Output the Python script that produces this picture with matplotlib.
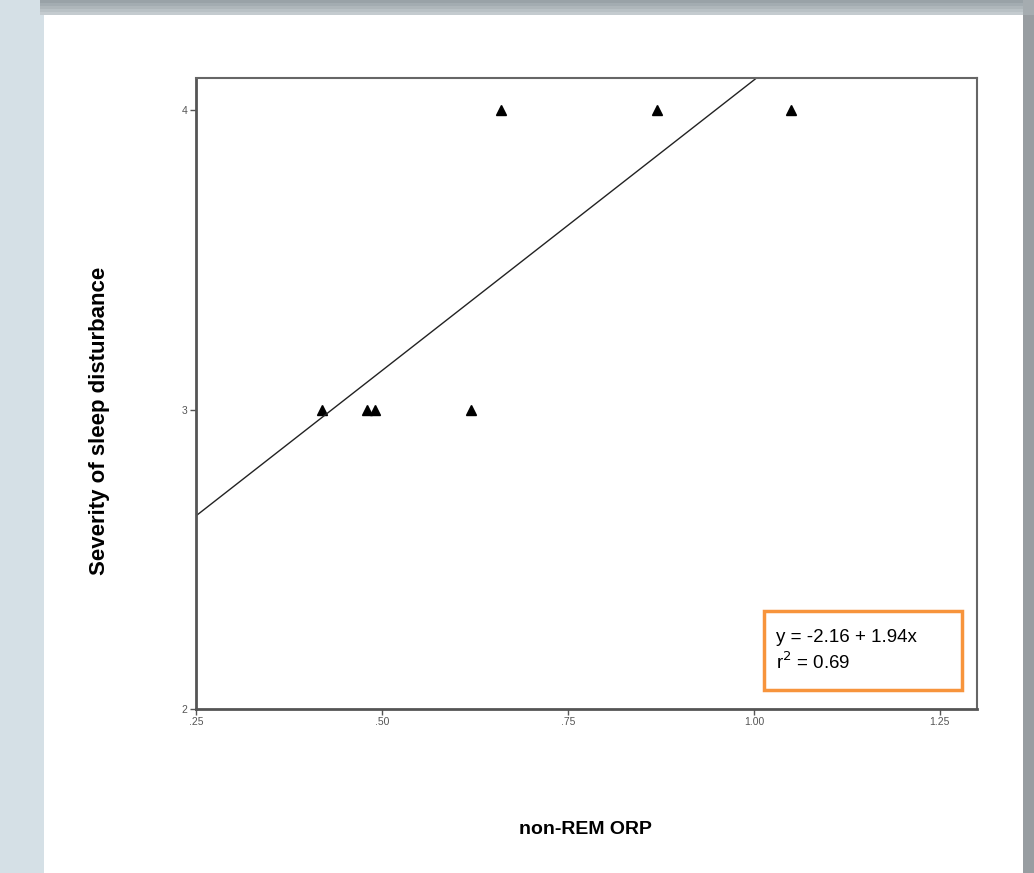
import matplotlib
matplotlib.use("Agg")
import matplotlib.pyplot as plt
import numpy as np
from matplotlib.patches import Rectangle

plt.rcParams['font.family'] = ['Liberation Sans', 'DejaVu Sans']

# data
orp = [0.42, 0.48, 0.49, 0.62, 0.66, 0.87, 1.05]
severity = [3, 3, 3, 3, 4, 4, 4]
fit_intercept = 2.16
fit_slope = 1.94
x_ticks = [0.25, 0.50, 0.75, 1.00, 1.25]
x_tick_labels = ['.25', '.50', '.75', '1.00', '1.25']
y_ticks = [2, 3, 4]
y_tick_labels = ['2', '3', '4']
fit_text = "y = -2.16 + 1.94x\nr$^2$ = 0.69"

W, H = 1034, 873
fig = plt.figure(figsize=(W / 100, H / 100), dpi=100)
fig.patch.set_facecolor('#d5e0e6')

# page background: white panel with grey shadow bars
def px_rect(x0, y0, x1, y1, color):
    fig.patches.append(Rectangle((x0 / W, 1 - y1 / H), (x1 - x0) / W, (y1 - y0) / H,
                                 transform=fig.transFigure, facecolor=color,
                                 edgecolor='none', zorder=0))

px_rect(44, 15, 1023, H, 'white')
px_rect(1023, 15, W, H, '#989da1')
for i, c in enumerate(['#99a2a7', '#a3acb1', '#aeb6ba', '#b9c1c5', '#c4cbcf']):
    px_rect(40, i * 3, W, i * 3 + 3, c)
px_rect(1023, 0, W, 15, '#a5acb0')

ax = fig.add_axes([196 / W, 1 - 709 / H, (977 - 196) / W, (709 - 78) / H])
ax.set_zorder(5)
ax.set_facecolor('white')
ax.set_xlim(0.25, 1.30)
ax.set_ylim(2, 4.107)

ax.plot(orp, severity, ls='none', marker='^', color='black', markersize=7.5)
xs = np.array([0.25, 1.30])
ax.plot(xs, fit_intercept + fit_slope * xs, color='#222222', linewidth=1.0)

ax.set_xticks(x_ticks)
ax.set_xticklabels(x_tick_labels)
ax.set_yticks(y_ticks)
ax.set_yticklabels(y_tick_labels)
ax.tick_params(labelsize=7.5, colors='#555555', length=4, width=1, pad=2)
for side in ['left', 'bottom']:
    ax.spines[side].set_color('#555555')
    ax.spines[side].set_linewidth(2.0)
for side in ['top', 'right']:
    ax.spines[side].set_color('#666666')
    ax.spines[side].set_linewidth(1.5)

# regression equation box
ax.add_patch(Rectangle((0.727, 0.030), 0.254, 0.125, transform=ax.transAxes,
                       facecolor='white', edgecolor='#f7943c', linewidth=2.5,
                       zorder=4))
ax.text(0.743, 0.127, fit_text, transform=ax.transAxes, fontsize=13.5,
        va='top', ha='left', linespacing=1.3, zorder=5)

fig.text(100 / W, 1 - 421 / H, 'Severity of sleep disturbance', rotation=90,
         fontsize=16, fontweight='bold', ha='center', va='center')
fig.text(585 / W, 1 - 829 / H, 'non-REM ORP', fontsize=14,
         fontweight='bold', ha='center', va='center')

fig.savefig('out.png', dpi=100)
